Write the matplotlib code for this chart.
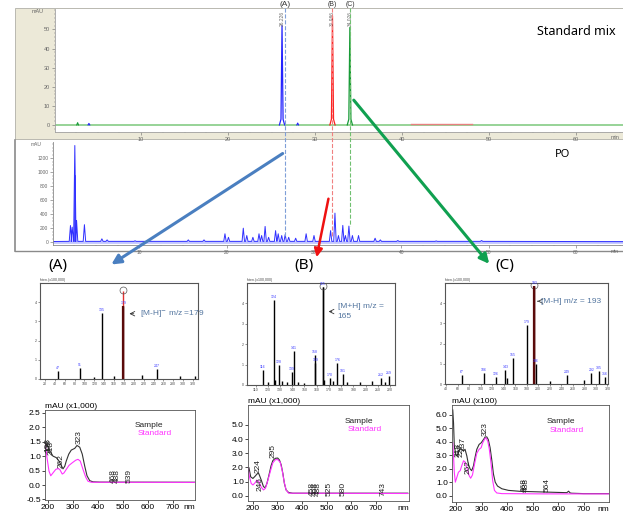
import numpy as np
import matplotlib
matplotlib.use("Agg")
import matplotlib.pyplot as plt
from matplotlib.patches import Rectangle
from matplotlib.ticker import MultipleLocator

plt.rcParams['font.family'] = ['Liberation Sans', 'DejaVu Sans']

W, H = 623, 515

# ============================================
# DATA
# ============================================
# Standard mix chromatogram (min, mAU)
std_times = [26.2, 32.0, 34.0]
std_heights = [52, 57, 51]
std_colors = ['#2424ff', '#ff2020', '#159a35']
std_rt_labels = ['26.226', '31.986', '34.026']

# PO chromatogram peaks (min, mAU)
po_times = [2.1, 2.3, 2.6, 2.8, 3.7, 5.7, 6.3, 9.5, 15.6, 17.4, 19.8, 20.2,
            21.9, 22.3, 23.0, 23.7, 24.0, 24.4, 24.8, 25.6, 25.9, 26.3, 26.7,
            27.1, 27.9, 29.1, 30.0, 31.9, 32.4, 32.8, 33.3, 33.6, 34.0, 34.4,
            35.1, 37.0, 37.6, 39.6, 44.0, 49.2]
po_heights = [238, 215, 1380, 310, 250, 48, 33, 20, 33, 33, 120, 70,
              200, 95, 70, 120, 95, 225, 70, 165, 120, 95, 110,
              70, 57, 120, 95, 165, 415, 95, 240, 95, 230, 95,
              95, 57, 33, 24, 18, 24]

# MS spectra (m/z, relative intensity)
ms_a_mz = [47, 91, 120, 135, 160, 179, 216, 247, 294, 324]
ms_a_int = [0.08, 0.11, 0.02, 0.69, 0.03, 0.76, 0.04, 0.10, 0.03, 0.03]
ms_b_mz = [116, 120, 124.7, 126, 128.8, 132, 136, 139.8, 141.2, 145, 150, 158.2, 159,
           165, 166, 170.5, 173, 176.8, 181.4, 185, 195, 205, 212.4, 216, 219]
ms_b_int = [0.15, 0.03, 0.83, 0.05, 0.20, 0.04, 0.03, 0.13, 0.33, 0.03, 0.02, 0.29, 0.22,
            0.96, 0.05, 0.07, 0.04, 0.22, 0.11, 0.03, 0.03, 0.04, 0.07, 0.03, 0.09]
ms_c_mz = [67, 106, 126, 143, 145, 155.5, 179.7, 193, 196, 220, 249, 280, 292, 305, 316]
ms_c_int = [0.09, 0.11, 0.07, 0.14, 0.06, 0.26, 0.58, 0.97, 0.20, 0.03, 0.09, 0.04, 0.11, 0.13, 0.07]

# UV spectra (nm, mAU x scale)
uv_a_wl_s = [193, 207, 220, 233, 244, 253, 260, 267, 273, 283, 293, 307, 316, 327, 337, 347, 356, 367, 380, 407, 788]
uv_a_s = [1.43, 1.19, 1.0, 0.95, 0.83, 0.68, 0.56, 0.65, 0.83, 1.07, 1.21, 1.27, 1.37, 1.31, 1.07, 0.65, 0.32, 0.15, 0.11, 0.10, 0.095]
uv_a_wl_st = [189, 196, 204, 211, 220, 231, 240, 247, 257, 264, 273, 284, 297, 311, 320, 329, 340, 351, 360, 373, 788]
uv_a_st = [1.43, 0.95, 0.48, 0.32, 0.42, 0.54, 0.57, 0.54, 0.38, 0.42, 0.54, 0.68, 0.77, 0.86, 0.89, 0.83, 0.54, 0.27, 0.13, 0.095, 0.09]

uv_b_wl_s = [184, 191, 200, 209, 218, 224, 234, 243, 250, 257, 265, 274, 281, 291, 301, 308, 315, 322, 328, 335, 345, 362, 830]
uv_b_s = [1.97, 1.33, 1.22, 1.38, 1.56, 1.56, 1.10, 0.64, 0.57, 0.87, 1.44, 2.13, 2.48, 2.64, 2.66, 2.52, 2.18, 1.56, 0.87, 0.41, 0.23, 0.18, 0.18]
uv_b_wl_st = [180, 186, 193, 200, 209, 216, 224, 234, 243, 251, 261, 272, 281, 292, 301, 311, 319, 327, 335, 345, 830]
uv_b_st = [1.97, 1.33, 0.87, 0.76, 0.92, 1.10, 0.99, 0.60, 0.41, 0.53, 1.10, 1.79, 2.32, 2.55, 2.55, 2.36, 1.79, 0.99, 0.41, 0.18, 0.16]

uv_c_wl_s = [187, 190, 193, 200, 207, 213, 222, 229, 235, 242, 248, 255, 261, 268, 274, 281, 290, 298,
             307, 313, 320, 326, 333, 340, 346, 353, 362, 379, 405, 450, 542, 633, 640, 646, 652, 700, 796]
uv_c_s = [6.36, 5.4, 3.7, 2.96, 3.08, 3.45, 3.45, 3.33, 3.45, 2.96, 2.35, 1.99, 1.87, 2.23, 2.84, 3.45, 3.81, 3.93,
          4.17, 4.34, 4.37, 4.17, 3.57, 2.6, 1.63, 1.02, 0.73, 0.53, 0.41, 0.34, 0.29, 0.24, 0.35, 0.22, 0.2, 0.17, 0.17]
uv_c_wl_st = [187, 190, 193, 197, 203, 209, 216, 222, 229, 235, 242, 251, 257, 264, 272, 281, 290, 298, 304,
              312, 317, 324, 330, 337, 343, 350, 359, 379, 542, 796]
uv_c_st = [3.93, 2.96, 1.75, 1.02, 1.38, 1.75, 1.87, 2.23, 2.6, 2.52, 2.11, 1.5, 1.31, 1.55, 2.35, 3.16, 3.45, 3.57, 3.93,
           4.22, 4.3, 4.05, 3.45, 2.35, 1.14, 0.41, 0.22, 0.17, 0.15, 0.15]

# UV peak labels (text, x in nm, y bottom)
uv_a_labels = [('323', 323, 1.42), ('262', 252, 0.6), ('218', 212, 1.05), ('208', 204, 1.1),
               ('198', 198, 1.15), ('468', 462, 0.08), ('488', 476, 0.08), ('539', 525, 0.08)]
uv_b_labels = [('224', 220, 1.6), ('246', 228, 0.3), ('295', 283, 2.65), ('458', 440, 0.0),
               ('468', 452, 0.0), ('488', 466, 0.0), ('525', 512, 0.0), ('580', 566, 0.0), ('743', 728, 0.0)]
uv_c_labels = [('323', 313, 4.45), ('237', 229, 3.3), ('227', 218, 2.9), ('218', 208, 2.9),
               ('262', 246, 1.6), ('468', 466, 0.3), ('488', 476, 0.3), ('564', 556, 0.3)]

fig = plt.figure(figsize=(W / 100, H / 100), dpi=100)


def px_axes(x0, y0, x1, y1):
    return fig.add_axes([x0 / W, 1 - y1 / H, (x1 - x0) / W, (y1 - y0) / H])


# ============================================
# BACKGROUND FRAMES
# ============================================
bg = px_axes(0, 0, W, H)
bg.set_xlim(0, W)
bg.set_ylim(H, 0)
bg.axis('off')
bg.add_patch(Rectangle((15, 8), 610, 131, facecolor='#ece9d8', edgecolor='#b0b0a8', lw=0.6))
bg.plot([15, 15], [140, 251], color='#8a8a8a', lw=1.2)
bg.plot([15, 623], [251, 251], color='#8a8a8a', lw=1.0)

# ============================================
# CHROMATOGRAMS
# ============================================
grey = '#666666'

ax1 = px_axes(55, 9, 623, 132)
ax1.set_facecolor('white')
ax1.set_xlim(0.1, 65.4)
ax1.set_ylim(-3.7, 60.7)
ax1.axhline(0, color='#8fd08f', lw=1.3, zorder=1)
ax1.plot([41, 48], [0.3, 0.3], color='#e88080', lw=1.0, zorder=1)
for t, h, c, lab in zip(std_times, std_heights, std_colors, std_rt_labels):
    ax1.plot([t - 0.3, t - 0.12, t, t + 0.12, t + 0.3], [0, 3, h, 3, 0], color=c, lw=0.9, zorder=2)
    ax1.text(t, 59.5, lab, rotation=90, fontsize=3.5, color=grey, ha='center', va='top', zorder=3)
ax1.plot([2.6, 2.7, 2.8], [0, 1.2, 0], color='#159a35', lw=0.8)
ax1.plot([3.9, 4.0, 4.1], [0, 0.8, 0], color='#2424ff', lw=0.8)
ax1.plot([27.9, 28.0, 28.1], [0, 1.0, 0], color='#2424ff', lw=0.8)
ax1.text(64.5, 49, 'Standard mix', fontsize=9, ha='right', va='center', family=['Noto Sans', 'DejaVu Sans'])
ax1.set_yticks([0, 10, 20, 30, 40, 50])
ax1.yaxis.set_minor_locator(MultipleLocator(2))
ax1.set_xticks([10, 20, 30, 40, 50, 60])
ax1.xaxis.set_minor_locator(MultipleLocator(2.5))
ax1.tick_params(labelsize=4, colors=grey, length=2, width=0.4, pad=1.5)
ax1.tick_params(which='minor', length=1, width=0.3, colors=grey)
ax1.text(-0.02, 1.0, 'mAU', transform=ax1.transAxes, fontsize=4, color=grey, ha='right', va='top')
ax1.text(64.0, -5.5, 'min', fontsize=4, color=grey, ha='left', va='top')
for s in ['top', 'right']:
    ax1.spines[s].set_visible(False)
for s in ['left', 'bottom']:
    ax1.spines[s].set_color('#a0a0a0')
    ax1.spines[s].set_linewidth(0.6)

ax2 = px_axes(53, 142, 623, 245)
ax2.set_facecolor('white')
ax2.set_xlim(0.1, 65.4)
ax2.set_ylim(-40, 1430)
ax2.axhline(0, color='#aab0ff', lw=2.0, alpha=0.7, zorder=1)
po_x = [0.1]
po_y = [10]
for t, h in zip(po_times, po_heights):
    po_x += [t - 0.14, t, t + 0.14]
    po_y += [12, h, 12]
po_x.append(65.4)
po_y.append(8)
ax2.plot(po_x, po_y, color='#3030ff', lw=0.7, zorder=2)
ax2.plot([2.6, 2.6], [12, 950], color='#3030ff', lw=1.2, zorder=2)
ax2.text(58.5, 1250, 'PO', fontsize=8, ha='center', va='center', family=['Noto Sans', 'DejaVu Sans'])
ax2.set_yticks([0, 200, 400, 600, 800, 1000, 1200])
ax2.yaxis.set_minor_locator(MultipleLocator(50))
ax2.set_xticks([10, 20, 30, 40, 50, 60])
ax2.xaxis.set_minor_locator(MultipleLocator(2.5))
ax2.tick_params(labelsize=3.5, colors=grey, length=2, width=0.4, pad=1.5)
ax2.tick_params(which='minor', length=1, width=0.3, colors=grey)
ax2.text(-0.02, 1.0, 'mAU', transform=ax2.transAxes, fontsize=3.5, color=grey, ha='right', va='top')
ax2.text(64.0, -90, 'min', fontsize=3.5, color=grey, ha='left', va='top')
for s in ['top', 'right']:
    ax2.spines[s].set_visible(False)
for s in ['left', 'bottom']:
    ax2.spines[s].set_color('#8a8a8a')
    ax2.spines[s].set_linewidth(0.6)


# ============================================
# MS SPECTRA
# ============================================
def ms_panel(rect, mz, inten, xlim, main_mz, main_h, main_color, note, note_xy, tick_step):
    ax = px_axes(*rect)
    ax.set_xlim(*xlim)
    ax.set_ylim(0, 1.0)
    # highlighted precursor line behind the bars
    ax.vlines([main_mz], 0, [main_h], colors=main_color, lw=1.0, zorder=1)
    ax.vlines(mz, 0, inten, colors='black', lw=1.0, zorder=2)
    if main_color != 'black':
        ax.vlines([main_mz], 0, [inten[mz.index(main_mz)]], colors='#5a0a0a', lw=1.6, zorder=3)
    for m, v in zip(mz, inten):
        if v >= 0.07:
            ax.text(m, v + 0.01, '%d' % m, fontsize=2.5, color='#3a3aff', ha='center', va='bottom')
    ax.plot([main_mz], [main_h + 0.01], marker='o', ms=5, mfc='none', mec='#555555', mew=0.5)
    ax.annotate('', xy=(main_mz + 0.02 * (xlim[1] - xlim[0]), note_xy[1]),
                xytext=(note_xy[0] - 0.02 * (xlim[1] - xlim[0]), note_xy[1]),
                arrowprops=dict(arrowstyle='->', color='#333333', lw=0.6, mutation_scale=8))
    ax.text(note_xy[0], note_xy[1], note, fontsize=6, color='#5577a0', ha='left', va='center',
            linespacing=1.6)
    ax.xaxis.set_major_locator(MultipleLocator(tick_step))
    ax.set_yticks([0, 0.2, 0.4, 0.6, 0.8])
    ax.set_yticklabels(['0', '1', '2', '3', '4'])
    ax.tick_params(labelsize=2.5, length=1.5, width=0.4, pad=1, colors='#444444')
    for s in ax.spines.values():
        s.set_linewidth(0.8)
        s.set_color('#555555')
    ax.text(0, 1.01, 'Inten.(x100,000)', transform=ax.transAxes, fontsize=2.5, color='#444444',
            ha='left', va='bottom')
    return ax


ms_panel((40, 283, 198, 379), ms_a_mz, ms_a_int, (10, 330), 179, 0.92, '#e03030',
         '[M-H]$^{-}$ m/z =179', (212, 0.68), 20)
ms_panel((247, 283, 395, 385), ms_b_mz, ms_b_int, (103, 224), 165, 0.96, 'black',
         '[M+H] m/z =\n165', (177, 0.72), 10)
ms_panel((445, 283, 608, 384), ms_c_mz, ms_c_int, (38, 321), 193, 0.97, '#c01010',
         '[M-H] m/z = 193', (205, 0.82), 20)


# ============================================
# UV SPECTRA
# ============================================
def uv_panel(rect, wl_s, ab_s, wl_st, ab_st, xlim, ylim, yticks, scale_lab, labels):
    ax = px_axes(*rect)
    ax.set_xlim(*xlim)
    ax.set_ylim(*ylim)
    ax.plot(wl_s, ab_s, color='#333333', lw=0.8)
    ax.plot(wl_st, ab_st, color='#ff33ff', lw=0.8)
    for s, x, y in labels:
        ax.text(x, y, s, rotation=90, fontsize=6, ha='center', va='bottom', color='#222222')
    ax.set_yticks(yticks)
    ax.set_yticklabels(['%.1f' % v for v in yticks])
    ax.set_xticks([200, 300, 400, 500, 600, 700])
    ax.tick_params(labelsize=6, length=2, width=0.5, pad=1)
    for s in ax.spines.values():
        s.set_linewidth(0.6)
        s.set_color('#555555')
    ax.annotate('nm', xy=(1.0, 0.0), xycoords='axes fraction', xytext=(0, -3),
                textcoords='offset points', fontsize=6, ha='right', va='top')
    ax.text(0.0, 1.0, scale_lab, transform=ax.transAxes, fontsize=6, ha='left', va='bottom')
    ax.text(0.6, 0.83, 'Sample', transform=ax.transAxes, fontsize=6, color='#222222', ha='left', va='center')
    ax.text(0.62, 0.74, 'Standard', transform=ax.transAxes, fontsize=6, color='#ff33ff', ha='left', va='center')
    return ax


uv_panel((45, 410, 195, 500), uv_a_wl_s, uv_a_s, uv_a_wl_st, uv_a_st, (188, 788), (-0.52, 2.6),
         [-0.5, 0.0, 0.5, 1.0, 1.5, 2.0, 2.5], 'mAU (x1,000)', uv_a_labels)
uv_panel((248, 405, 409, 501), uv_b_wl_s, uv_b_s, uv_b_wl_st, uv_b_st, (180, 835), (-0.37, 6.4),
         [0.0, 1.0, 2.0, 3.0, 4.0, 5.0], 'mAU (x1,000)', uv_b_labels)
uv_panel((452, 405, 609, 502), uv_c_wl_s, uv_c_s, uv_c_wl_st, uv_c_st, (184, 798), (-0.45, 6.73),
         [0.0, 1.0, 2.0, 3.0, 4.0, 5.0, 6.0], 'mAU (x100)', uv_c_labels)

# ============================================
# OVERLAY: DASHED GUIDES, ARROWS, PANEL LABELS
# ============================================
ov = px_axes(0, 0, W, H)
ov.set_xlim(0, W)
ov.set_ylim(H, 0)
ov.axis('off')
ov.set_zorder(10)
ov.plot([285, 285], [8, 236], ls='--', color='#7f9fd8', lw=0.8)
ov.plot([332, 332], [8, 236], ls='--', color='#f08080', lw=0.8)
ov.plot([350, 350], [8, 226], ls='--', color='#70c070', lw=0.8)
ov.text(285, 8, '(A)', fontsize=6, ha='center', va='bottom', color='#333333')
ov.text(332, 0.5, '(B)', fontsize=5, ha='center', va='top', color='#333333')
ov.text(350, 0.5, '(C)', fontsize=5, ha='center', va='top', color='#333333')

ov.annotate('', xy=(109, 266), xytext=(285, 152),
            arrowprops=dict(arrowstyle='-|>', color='#4a7fc0', lw=2.2, mutation_scale=14))
ov.annotate('', xy=(316, 260), xytext=(329, 196),
            arrowprops=dict(arrowstyle='-|>', color='#ee1111', lw=1.8, mutation_scale=12))
ov.annotate('', xy=(491, 266), xytext=(352, 98),
            arrowprops=dict(arrowstyle='-|>', color='#10a050', lw=2.2, mutation_scale=14))

lab_font = ['Noto Sans', 'DejaVu Sans']
ov.text(58, 265, '(A)', fontsize=11, ha='center', va='center', family=lab_font)
ov.text(304, 265, '(B)', fontsize=11, ha='center', va='center', family=lab_font)
ov.text(505, 265, '(C)', fontsize=11, ha='center', va='center', family=lab_font)

fig.savefig('out.png', dpi=100)
